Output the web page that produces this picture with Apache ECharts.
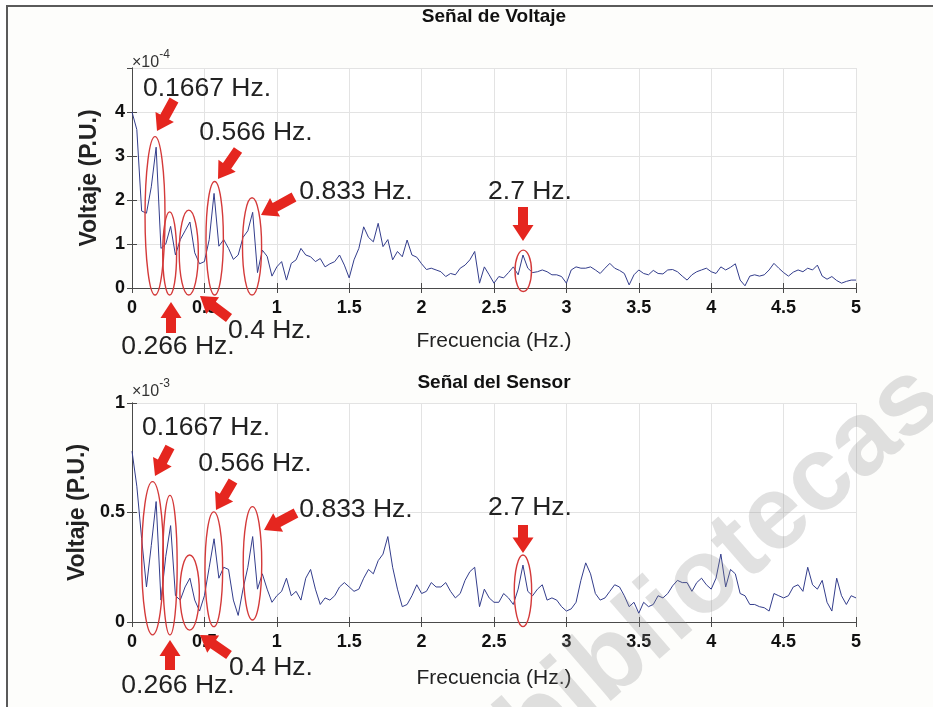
<!DOCTYPE html>
<html><head><meta charset="utf-8">
<script src="https://cdn.jsdelivr.net/npm/echarts@6/dist/echarts.min.js"></script>
<style>html,body{margin:0;padding:0;background:#fff;}#c{width:933px;height:707px;}</style>
</head><body><div id="c"></div>
<script>
// Frequency resolution of both spectra (Hz)
const freqStep = 1 / 30;
// Top spectrum: "Señal de Voltaje", values in units of 1e-4 P.U.
const voltageSignal = [
 4.0,3.6,1.75,1.70,2.3,3.2,0.9,1.0,1.4,0.75,
 1.1,1.3,1.5,0.8,0.55,0.6,1.1,2.15,0.95,1.1,
 0.9,0.65,0.75,1.15,1.3,1.72,0.35,0.86,0.72,0.27,
 0.48,0.6,0.18,0.56,0.64,0.9,0.75,0.71,0.6,0.67,
 0.48,0.55,0.6,0.75,0.52,0.23,0.64,0.9,1.39,1.15,
 1.05,1.47,0.94,1.1,0.64,0.83,0.71,1.09,0.75,0.7,
 0.55,0.42,0.45,0.41,0.37,0.26,0.33,0.30,0.45,0.52,
 0.64,0.83,0.11,0.48,0.3,0.11,0.26,0.23,0.35,0.48,
 0.30,0.75,0.45,0.35,0.37,0.41,0.37,0.30,0.30,0.26,
 0.11,0.41,0.48,0.45,0.45,0.48,0.41,0.33,0.45,0.56,
 0.45,0.40,0.33,0.07,0.30,0.41,0.33,0.30,0.40,0.33,
 0.32,0.41,0.42,0.37,0.27,0.18,0.30,0.37,0.41,0.45,
 0.37,0.33,0.48,0.41,0.47,0.55,0.18,0.05,0.27,0.30,
 0.27,0.30,0.41,0.56,0.45,0.35,0.27,0.36,0.41,0.37,
 0.45,0.41,0.52,0.27,0.20,0.26,0.17,0.11,0.15,0.18,
 0.18];
// Bottom spectrum: "Señal del Sensor", values in units of 1e-3 P.U.
const sensorSignal = [
 0.78,0.62,0.38,0.16,0.35,0.55,0.1,0.3,0.44,0.12,
 0.1,0.16,0.2,0.1,0.05,0.12,0.25,0.38,0.2,0.25,
 0.24,0.1,0.03,0.15,0.25,0.39,0.15,0.22,0.15,0.09,
 0.12,0.14,0.2,0.12,0.14,0.1,0.2,0.24,0.15,0.08,
 0.11,0.1,0.12,0.16,0.18,0.16,0.14,0.15,0.2,0.24,
 0.22,0.28,0.31,0.39,0.25,0.15,0.07,0.08,0.12,0.17,
 0.13,0.14,0.18,0.16,0.16,0.18,0.14,0.11,0.13,0.19,
 0.23,0.25,0.07,0.15,0.11,0.09,0.09,0.13,0.11,0.08,
 0.15,0.26,0.14,0.12,0.15,0.17,0.1,0.11,0.10,0.07,
 0.05,0.06,0.09,0.19,0.27,0.22,0.13,0.1,0.11,0.14,
 0.17,0.16,0.12,0.07,0.09,0.04,0.09,0.07,0.08,0.12,
 0.11,0.13,0.165,0.19,0.18,0.18,0.14,0.18,0.2,0.17,
 0.15,0.2,0.31,0.16,0.24,0.22,0.13,0.12,0.08,0.08,
 0.07,0.065,0.05,0.13,0.12,0.11,0.12,0.16,0.17,0.14,
 0.25,0.17,0.15,0.19,0.09,0.05,0.2,0.12,0.08,0.12,
 0.11];
const peakLabels = ['0.1667 Hz.', '0.266 Hz.', '0.4 Hz.', '0.566 Hz.', '0.833 Hz.', '2.7 Hz.'];
// Highlight rings: [centre Hz, lower value, upper value, half width Hz]
const voltageRings = [[0.159,-0.16,3.44,0.069],[0.26,-0.16,1.73,0.048],[0.392,-0.16,1.77,0.066],[0.571,-0.16,2.42,0.060],[0.829,-0.16,2.05,0.066],[2.702,-0.08,0.86,0.057]];
const sensorRings = [[0.142,-0.059,0.641,0.075],[0.262,-0.059,0.578,0.050],[0.398,-0.037,0.306,0.067],[0.565,-0.021,0.503,0.061],[0.832,0.009,0.527,0.064],[2.70,-0.021,0.306,0.060]];
const titles = ['Señal de Voltaje', 'Señal del Sensor'];
const xName = 'Frecuencia (Hz.)';
const yName = 'Voltaje (P.U.)';
const exponents = ['-4', '-3'];
const watermarkText = 'bibliotecas';

const FONT = '"Liberation Sans", Arial, sans-serif';
const toPairs = arr => arr.map((v, k) => [k * freqStep, v]);

const chart = echarts.init(document.getElementById('c'), null, {renderer: 'canvas'});

const grids = [
  {left: 132, right: 77, top: 68, height: 220},
  {left: 132, right: 77, top: 403, height: 219}
];
const yMax = [5, 1], yInt = [1, 0.5];
const axisCol = '#4a4a4a';

function xAxes(gi, nameGap) {
  return [{
    gridIndex: gi, type: 'value', min: 0, max: 5, interval: 0.5,
    name: xName, nameLocation: 'middle', nameGap: nameGap,
    nameTextStyle: {fontFamily: FONT, fontSize: 21, color: '#222'},
    axisLine: {lineStyle: {color: axisCol, width: 1}},
    axisTick: {inside: true, length: 5, lineStyle: {color: axisCol}},
    axisLabel: {fontFamily: FONT, fontSize: 18, fontWeight: 'bold', color: '#111', margin: 11},
    splitLine: {show: true, lineStyle: {color: '#e3e3e3', width: 1}}
  }, {
    gridIndex: gi, type: 'value', min: 0, max: 5, interval: 0.5, position: 'top',
    axisLine: {lineStyle: {color: axisCol, width: 1}},
    axisTick: {inside: true, length: 5, lineStyle: {color: axisCol}},
    axisLabel: {show: false}, splitLine: {show: false}
  }];
}
function yAxes(gi) {
  return [{
    gridIndex: gi, type: 'value', min: 0, max: yMax[gi], interval: yInt[gi],
    name: yName, nameLocation: 'middle', nameGap: 31,
    nameTextStyle: {fontFamily: FONT, fontSize: 23, fontWeight: 'bold', color: '#222'},
    axisLine: {show: true, lineStyle: {color: axisCol, width: 1}},
    axisTick: {show: true, inside: true, length: 5, lineStyle: {color: axisCol}},
    axisLabel: {fontFamily: FONT, fontSize: 18, fontWeight: 'bold', color: '#111', margin: 7,
      showMaxLabel: gi === 1},
    splitLine: {show: true, lineStyle: {color: '#e3e3e3', width: 1}}
  }, {
    gridIndex: gi, type: 'value', min: 0, max: yMax[gi], interval: yInt[gi], position: 'right',
    axisLine: {show: true, lineStyle: {color: axisCol, width: 1}},
    axisTick: {show: true, inside: true, length: 5, lineStyle: {color: axisCol}},
    axisLabel: {show: false}, splitLine: {show: false}
  }];
}

function ringSeries(data, xi, yi) {
  return {
    type: 'custom', xAxisIndex: xi, yAxisIndex: yi, clip: false, silent: true, z: 6,
    data: data,
    renderItem: function (params, api) {
      const f = api.value(0), lo = api.value(1), hi = api.value(2), hw = api.value(3);
      const top = api.coord([f, hi]);
      const bot = api.coord([f, lo]);
      const rgt = api.coord([f + hw, lo]);
      return {type: 'ellipse',
        shape: {cx: top[0], cy: (top[1] + bot[1]) / 2, rx: rgt[0] - top[0], ry: (bot[1] - top[1]) / 2},
        style: {fill: 'none', stroke: '#d43a3a', lineWidth: 1.4}};
    }
  };
}

function arrow(tx, ty, px, py) {
  const dx = px - tx, dy = py - ty, L = Math.hypot(dx, dy);
  const ux = dx / L, uy = dy / L, nx = -uy, ny = ux;
  const hl = Math.min(16, L * 0.55), hw = 10.5, sw = 5;
  const bx = px - ux * hl, by = py - uy * hl;
  return {type: 'polygon', z: 100, silent: true,
    shape: {points: [[tx + nx * sw, ty + ny * sw], [bx + nx * sw, by + ny * sw], [bx + nx * hw, by + ny * hw],
      [px, py], [bx - nx * hw, by - ny * hw], [bx - nx * sw, by - ny * sw], [tx - nx * sw, ty - ny * sw]]},
    style: {fill: '#e5261f'}};
}
function label(txt, x, y) {
  return {type: 'text', x: x, y: y, z: 100, silent: true,
    style: {text: txt, font: '26.5px ' + FONT, fill: '#222', textAlign: 'center', textVerticalAlign: 'middle'}};
}

// annotation layout per panel: label centres and arrows (tail -> tip), in order of peakLabels
const panelLayout = [
  {labels: [[207, 89], [178, 347], [270, 331], [256, 133], [356, 192], [530, 192]],
   arrows: [[174, 100, 157, 131], [171, 333, 171, 302], [229, 318, 200, 296], [238, 150, 218, 179], [294, 197, 261, 215], [523, 207, 523, 241]],
   title: [494, 17], exp: [132, 49]},
  {labels: [[206, 428], [178, 686], [271, 668], [255, 464], [356, 510], [530, 508]],
   arrows: [[170, 447, 155, 476], [170, 670, 170, 640], [229, 655, 200, 635], [233, 481, 216, 510], [296, 513, 264, 530], [523, 525, 523, 553]],
   title: [494, 383], exp: [132, 378]}
];

const graphic = [{type: 'rect', z: -10, silent: true, shape: {x: 7, y: 6, width: 940, height: 720},
  style: {fill: '#fdfdfb', stroke: '#5a5a5a', lineWidth: 2}}];
panelLayout.forEach((p, gi) => {
  graphic.push({type: 'text', x: p.title[0], y: p.title[1], z: 50, silent: true,
    style: {text: titles[gi], font: 'bold 19px ' + FONT, fill: '#111', textAlign: 'center', textVerticalAlign: 'middle'}});
  graphic.push({type: 'text', x: p.exp[0], y: p.exp[1], z: 50, silent: true,
    style: {text: '{a|×10}{b|' + exponents[gi] + '}', rich: {
      a: {fontFamily: FONT, fontSize: 16, fill: '#333', color: '#333', padding: [6, 0, 0, 0]},
      b: {fontFamily: FONT, fontSize: 12, fill: '#333', color: '#333', verticalAlign: 'top', padding: [0, 0, 8, 0]}}}});
  p.labels.forEach((l, i) => graphic.push(label(peakLabels[i], l[0], l[1])));
  p.arrows.forEach(a => graphic.push(arrow(a[0], a[1], a[2], a[3])));
});
// faint diagonal watermark over the lower-right area
graphic.push({type: 'text', x: 723, y: 565, rotation: 0.716, z: 200, silent: true,
  style: {text: watermarkText, font: 'bold 105px ' + FONT, fill: 'rgba(140,140,140,0.26)', textAlign: 'center', textVerticalAlign: 'middle'}});

const option = {
  backgroundColor: '#ffffff',
  animation: false,
  grid: grids.map(g => Object.assign({show: true, backgroundColor: '#ffffff', borderWidth: 0}, g)),
  xAxis: [...xAxes(0, 43), ...xAxes(1, 46)],
  yAxis: [...yAxes(0), ...yAxes(1)],
  series: [
    {type: 'line', xAxisIndex: 0, yAxisIndex: 0, data: toPairs(voltageSignal), showSymbol: false, z: 3,
     lineStyle: {color: '#333d8c', width: 1}},
    {type: 'line', xAxisIndex: 2, yAxisIndex: 2, data: toPairs(sensorSignal), showSymbol: false, z: 3,
     lineStyle: {color: '#333d8c', width: 1}},
    ringSeries(voltageRings, 0, 0),
    ringSeries(sensorRings, 2, 2)
  ],
  graphic: graphic
};
chart.setOption(option);
</script></body></html>
